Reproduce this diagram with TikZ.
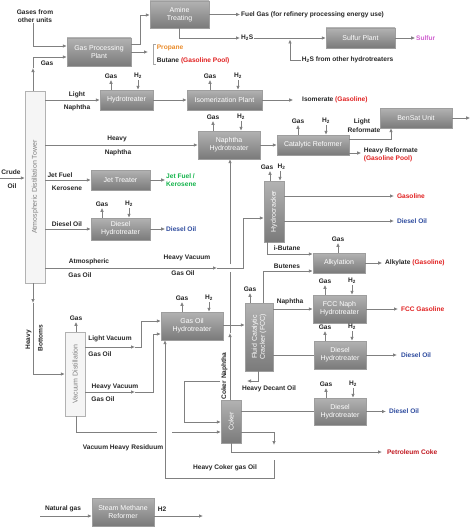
\documentclass[tikz,border=0pt]{standalone}
\usepackage{fontspec}
\setmainfont{Liberation Sans}
\usetikzlibrary{arrows.meta}
\definecolor{cOrange}{HTML}{E98B2A}
\definecolor{cRed}{HTML}{E02020}
\definecolor{cGreen}{HTML}{12B34A}
\definecolor{cBlue}{HTML}{2E4B9E}
\definecolor{cMag}{HTML}{D060D0}
\definecolor{cDark}{HTML}{C0161E}
\newcommand\lblfnt{\fontsize{6.6}{8}\selectfont\bfseries}
\newcommand\boxfnt{\fontsize{7}{8}\selectfont}
\newcommand\pbox[6]{\node[procbox, minimum width=#4pt, minimum height=#5pt] (#1) at (#2,#3) {#6};}
\newcommand\GasHy[3]{%
  \draw[flow] ([xshift=#2pt]#1.north) -- ++(0,-10) node[lbl,above]{Gas};
  \draw[flow] ([xshift=#3pt,yshift=10pt]#1.north) node[lbl,above]{H\textsubscript{2}} -- ([xshift=#3pt]#1.north);}
\newcommand\GasOnly[2]{\draw[flow] ([xshift=#2pt]#1.north) -- ++(0,-10) node[lbl,above]{Gas};}
\tikzset{
  procbox/.style={draw=black!38, top color=black!30, bottom color=black!52, text=white, font=\boxfnt, align=center, inner sep=0pt},
  towerbox/.style={draw=black!30, fill=black!4, inner sep=0pt},
  towertext/.style={rotate=90, text=black!50, font=\fontsize{7}{8}\selectfont, inner sep=0pt},
  lbl/.style={font=\lblfnt, inner sep=0.6pt, text=black!85},
  flow/.style={draw=black!50, line width=0.8pt, -{Latex[length=4pt,width=3.6pt]}},
  ln/.style={draw=black!50, line width=0.8pt},
}
\begin{document}
\begin{tikzpicture}[x=1pt,y=-1pt]
\useasboundingbox (0,0) rectangle (474,527);
% ---------- units ----------
\node[towerbox, minimum width=20pt, minimum height=192pt] (tower) at (35,187) {};
\node[towertext] at (tower.center) {Atmospheric Distillation Tower};
\node[towerbox, minimum width=20pt, minimum height=84pt] (vac) at (75,374) {};
\node[towertext] at (vac.center) {Vacuum Distillation};
\pbox{gpp}{99}{52}{64}{28}{Gas Processing\\Plant}
\pbox{amine}{179.5}{14.5}{59}{27}{Amine\\Treating}
\pbox{sulfur}{360.5}{38}{69}{20}{Sulfur Plant}
\pbox{ht}{126.5}{100}{53}{20}{Hydrotreater}
\pbox{iso}{224.5}{100}{75}{20}{Isomerization Plant}
\pbox{nht}{229}{145}{62}{28}{Naphtha\\Hydrotreater}
\pbox{cr}{313}{145}{72}{20}{Catalytic Reformer}
\pbox{bensat}{416}{118}{72}{20}{BenSat Unit}
\pbox{jet}{120.5}{180}{59}{20}{Jet Treater}
\pbox{dht1}{120.5}{229}{59}{22}{Diesel\\Hydrotreater}
\pbox{hc}{274}{211.5}{20}{61}{}
\node[rotate=90, text=white, font=\boxfnt] at (hc.center) {Hydrocracker};
\pbox{alk}{339}{263}{52}{20}{Alkylation}
\pbox{fcc}{259}{337}{28}{68}{}
\node[rotate=90, text=white, font=\boxfnt, align=center] at (fcc.center) {Fluid Catalytic\\Cracker (FCC)};
\pbox{fccnht}{339.5}{309}{53}{28}{FCC Naph\\Hydrotreater}
\pbox{dht2}{340}{355}{52}{28}{Diesel\\Hydrotreater}
\pbox{goht}{192}{326}{62}{28}{Gas Oil\\Hydrotreater}
\pbox{coker}{231}{421.5}{20}{43}{}
\node[rotate=90, text=white, font=\boxfnt] at (coker.center) {Coker};
\pbox{dht3}{340}{411.5}{52}{27}{Diesel\\Hydrotreater}
\pbox{smr}{123}{512}{62}{28}{Steam Methane\\Reformer}
% ---------- gas / H2 stubs ----------
\GasHy{ht}{-15.5}{11.5}
\GasHy{iso}{-14.5}{13.5}
\GasHy{nht}{-16}{12}
\GasHy{cr}{-15}{13}
\GasHy{dht1}{-18.5}{8.5}
\draw[flow] ([xshift=-4pt]hc.north) -- ++(0,-10) node[lbl,above,xshift=-3pt]{Gas};
\draw[flow] ([xshift=6pt,yshift=10pt]hc.north) node[lbl,above,xshift=1.5pt]{H\textsubscript{2}} -- ([xshift=6pt]hc.north);
\GasOnly{alk}{-1}
\GasOnly{fcc}{-9}
\GasHy{fccnht}{-14.5}{12.5}
\GasHy{dht2}{-15}{12}
\GasHy{goht}{-10}{17}
\GasOnly{vac}{1}
\GasHy{dht3}{-14}{13}
% ---------- crude ----------
\node[lbl] at (11,172) {Crude};
\node[lbl] at (12,186) {Oil};
\coordinate (crudein) at (0,178);
\draw[flow] (crudein) -- (tower.west |- crudein);
% ---------- gas to GPP ----------
\node[lbl, align=center] (gou) at (35,16) {Gases from\\other units};
\draw[flow] (gou.south -| 33,0) -- (33,46) -- (gpp.west |- 0,46);
\draw[flow] (tower.north -| 33,0) -- (33,68);
\draw[flow] (33,68) -- (33,57) -- (gpp.west |- 0,57);
\node[lbl] at (47,63) {Gas};
\draw[flow] (gpp.east |- 0,44) -- (140,44) -- (140,15) -- (amine.west |- 0,15);
\draw[flow] (gpp.east |- 0,52) -- (148,52);
\draw[draw=black!35, line width=0.6pt] (156,44) -- (153,44) -- (153,64) -- (156,64);
\node[lbl, anchor=west, text=cOrange] at (156,48) {Propane};
\node[lbl, anchor=west] at (156,61) {Butane \textcolor{cRed}{(Gasoline Pool)}};
% ---------- amine / sulfur ----------
\draw[flow] (amine.east) -- ++(31,0) node[lbl, anchor=west]{Fuel Gas (for refinery processing energy use)};
\draw[flow] (amine.south) -- (179.5,38) -- (240,38) node[lbl, anchor=west] (h2s) {H\textsubscript{2}S};
\draw[flow] (h2s.east) -- (sulfur.west);
\draw[flow] (sulfur.east) -- ++(20,0) node[lbl, anchor=west, text=cMag]{Sulfur};
\node[lbl, anchor=west] (h2so) at (301,60) {H\textsubscript{2}S from other hydrotreaters};
\draw[flow] (h2so.west) -- (290,60) -- (290,39.5);
% ---------- light naphtha ----------
\draw[flow] (tower.east |- ht.west) -- (ht.west);
\node[lbl] at (77,95) {Light};
\node[lbl] at (77,108) {Naphtha};
\draw[flow] (ht) -- (iso);
\draw[flow] (iso.east) -- ++(31,0) node[lbl, anchor=west, xshift=8pt]{Isomerate \textcolor{cRed}{(Gasoline)}};
% ---------- heavy naphtha ----------
\draw[flow] (tower.east |- nht.west) -- (nht.west);
\node[lbl] at (117,139) {Heavy};
\node[lbl] at (118,153) {Naphtha};
\draw[flow] (nht) -- (cr);
\draw[flow] (cr.east |- 0,139) -- (391,139) -- (bensat.south -| 391,0);
\node[lbl] at (362,122) {Light};
\node[lbl] at (364,130) {Reformate};
\draw[flow] (bensat.east) -- ++(18,0);
\draw[flow] (cr.east |- 0,153) -- ++(12,0);
\node[lbl, anchor=west] at (363,151) {Heavy Reformate};
\node[lbl, anchor=west, text=cRed] at (363,159) {(Gasoline Pool)};
% ---------- jet / diesel ----------
\draw[flow] (tower.east |- jet.west) -- (jet.west);
\node[lbl] at (60,175) {Jet Fuel};
\node[lbl] at (67,188) {Kerosene};
\draw[flow] (jet.east) -- ++(15,0) node[lbl, anchor=west, align=left, text=cGreen]{Jet Fuel /\\Kerosene};
\draw[flow] (tower.east |- dht1.west) -- (dht1.west);
\node[lbl] at (67,224) {Diesel Oil};
\draw[flow] (dht1.east) -- ++(15,0) node[lbl, anchor=west, text=cBlue]{Diesel Oil};
% ---------- atmospheric gas oil -> hydrocracker ----------
\draw[flow] (tower.east |- 0,268) -- (217,268);
\draw[flow] (217,268) -- (243,268) -- (243,218) -- (hc.west |- 0,218);
\node[lbl] at (89,262) {Atmospheric};
\node[lbl] at (80,275) {Gas Oil};
\node[lbl] at (187,258) {Heavy Vacuum};
\node[lbl] at (183,273) {Gas Oil};
\draw[flow] (hc.east |- 0,196) -- (394,196) node[lbl, anchor=west, text=cRed, xshift=2pt]{Gasoline};
\draw[flow] (hc.east |- 0,221) -- (394,221) node[lbl, anchor=west, text=cBlue, xshift=2pt]{Diesel Oil};
\draw[flow] (hc.south -| 267,0) -- (267,254) -- (alk.west |- 0,254);
\node[lbl] at (287,248) {i-Butane};
\draw[flow] (alk.east) -- ++(17,0) node[lbl, anchor=west, xshift=2pt]{Alkylate \textcolor{cRed}{(Gasoline)}};
% ---------- coker naphtha to naphtha HT ----------
\draw[flow] (coker.north -| 230,0) -- (230,333);
\draw[ln] (230,333) -- (230,272);
\draw[flow] (230,264) -- (nht.south -| 230,0);
\node[lbl, rotate=90] at (224.5,376) {Coker Naphtha};
% ---------- FCC ----------
\draw[flow] (goht.east |- 0,325) -- (fcc.west |- 0,325);
\draw[flow] (fcc.north -| 263,0) -- (263,271) -- (alk.west |- 0,271);
\node[lbl] at (287,266) {Butenes};
\draw[flow] (fcc.east |- 0,309) -- (fccnht.west |- 0,309);
\node[lbl] at (290,302) {Naphtha};
\draw[flow] (fccnht.east) -- (398,309) node[lbl, anchor=west, text=cRed, xshift=2pt]{FCC Gasoline};
\draw[ln] (fcc.east |- dht2.west) -- (dht2.west);
\draw[flow] (dht2.east) -- (397,355) node[lbl, anchor=west, text=cBlue, xshift=3pt]{Diesel Oil};
\draw[flow] (fcc.south -| 258,0) -- (258,381) -- (247,381);
\draw[flow] (220,381) -- (184,381) -- (184,422) -- (coker.west |- 0,422);
\node[lbl] at (269,389) {Heavy Decant Oil};
% ---------- coker ----------
\draw[ln] (coker.east |- dht3.west) -- (dht3.west);
\draw[flow] (dht3.east) -- (386,411.5) node[lbl, anchor=west, text=cBlue, xshift=2pt]{Diesel Oil};
\draw[flow] (coker.east |- 0,432) -- (274,432) -- (274,445);
\draw[flow] (274,460) -- (274,478) -- (165,478) -- (goht.south -| 165,0);
\node[lbl] at (225,468) {Heavy Coker gas Oil};
\draw[flow] (coker.south -| 231,0) -- (231,452) -- (382,452) node[lbl, anchor=west, text=cDark, xshift=4pt]{Petroleum Coke};
% ---------- vacuum ----------
\draw[flow] (tower.south -| 33,0) -- (33,303);
\draw[flow] (33,303) -- (33,374) -- (vac.west |- 0,374);
\node[lbl, rotate=90] at (28.5,340) {Heavy};
\node[lbl, rotate=90] at (40.5,338) {Bottoms};
\draw[flow] (vac.east |- 0,347) -- (135,347);
\draw[flow] (135,347) -- (141,347) -- (141,321) -- (goht.west |- 0,321);
\node[lbl] at (110,339) {Light Vacuum};
\node[lbl] at (100,354) {Gas Oil};
\draw[flow] (vac.east |- 0,392) -- (135,392);
\draw[flow] (135,392) -- (153,392) -- (153,334) -- (goht.west |- 0,334);
\node[lbl] at (115,387) {Heavy Vacuum};
\node[lbl] at (103,399) {Gas Oil};
\draw[ln] (vac.south -| 76,0) -- (76,432) -- (157,432);
\draw[flow] (172,432) -- (coker.west |- 0,432);
\node[lbl] at (123,448) {Vacuum Heavy Residuum};
% ---------- steam methane reformer ----------
\coordinate (ngin) at (40,516);
\draw[flow] (ngin) -- (smr.west |- ngin);
\node[lbl] at (63,509) {Natural gas};
\draw[flow] (smr.east |- 0,516) -- (203,516);
\node[lbl] at (162,509) {H2};
\end{tikzpicture}
\end{document}
